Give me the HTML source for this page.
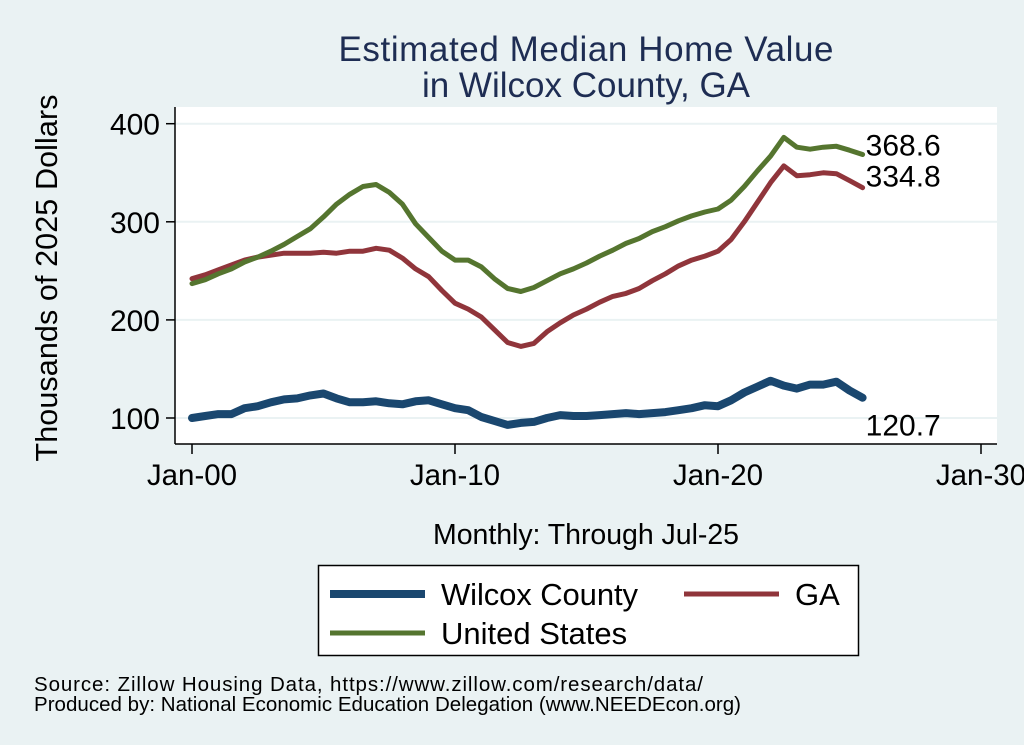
<!DOCTYPE html>
<html><head><meta charset="utf-8"><style>
html,body{margin:0;padding:0;background:#eaf2f3;}
svg{display:block;font-family:"Liberation Sans",Arial,sans-serif;}
</style></head><body>
<svg id="chart" width="1024" height="745" viewBox="0 0 1024 745">
<rect x="0" y="0" width="1024" height="745" fill="#eaf2f3"/>
<text x="586" y="61" text-anchor="middle" font-size="35" fill="#1e2d53" textLength="495">Estimated Median Home Value</text>
<text x="586" y="97" text-anchor="middle" font-size="35" fill="#1e2d53">in Wilcox County, GA</text>
<rect x="175" y="107" width="822" height="337" fill="#ffffff"/>
<g id="grid"></g>
<g id="axes"></g>
<g id="series"></g>
<text x="57" y="278" transform="rotate(-90 57 278)" text-anchor="middle" font-size="30.5" fill="#000" textLength="367">Thousands of 2025 Dollars</text>
<text x="586" y="544" text-anchor="middle" font-size="28.5" fill="#000" textLength="306">Monthly: Through Jul-25</text>
<g>
<rect x="318.5" y="565.5" width="540" height="90" fill="#fff" stroke="#000" stroke-width="1.5"/>
<line x1="330" y1="594" x2="425" y2="594" stroke="#1a476f" stroke-width="8"/>
<text x="441" y="605" font-size="31" textLength="197">Wilcox County</text>
<line x1="684" y1="594" x2="779" y2="594" stroke="#90353b" stroke-width="5"/>
<text x="795" y="605" font-size="31">GA</text>
<line x1="330" y1="633" x2="425" y2="633" stroke="#55752f" stroke-width="5"/>
<text x="441" y="644" font-size="31">United States</text>
</g>
<text x="34" y="691" font-size="20.5" textLength="669">Source: Zillow Housing Data, https://www.zillow.com/research/data/</text>
<text x="34" y="711" font-size="20.5" textLength="707">Produced by: National Economic Education Delegation (www.NEEDEcon.org)</text>
</svg>
<script>
const startYear = 2000;
const stepYears = 0.5;
const usValues = [237,241,247,252,259,264,270,277,285,293,305,318,328,336,338,330,318,298,284,270,261,261,254,242,232,229,233,240,247,252,258,265,271,278,283,290,295,301,306,310,313,322,336,352,367,386,376,374,376,377,373,368.6];
const gaValues = [242,246,251,256,261,264,266,268,268,268,269,268,270,270,273,271,263,252,244,230,217,211,203,190,177,173,176,188,197,205,211,218,224,227,232,240,247,255,261,265,270,282,300,320,340,357,347,348,350,349,342,334.8];
const wilcoxValues = [100,102,104,104,110,112,116,119,120,123,125,120,116,116,117,115,114,117,118,114,110,108,101,97,93,95,96,100,103,102,102,103,104,105,104,105,106,108,110,113,112,118,126,132,138,133,130,134,134,137,128,120.7];
const yTicks = [100,200,300,400];
const xTickYears = [2000,2010,2020,2030];
const xTickLabels = ["Jan-00","Jan-10","Jan-20","Jan-30"];
const endLabels = ["368.6","334.8","120.7"];

const NS = "http://www.w3.org/2000/svg";
function xs(yr){ return 192 + (yr-2000)*26.3; }
function ys(v){ return 418 - (v-100)*0.981; }
function mk(tag, attrs, parent){ const e=document.createElementNS(NS,tag); for(const k in attrs) e.setAttribute(k,attrs[k]); parent.appendChild(e); return e; }

const grid=document.getElementById('grid'), axes=document.getElementById('axes'), series=document.getElementById('series');
yTicks.forEach(v=>{
  const g=mk('line',{x1:175,x2:997,y1:ys(v),y2:ys(v),stroke:'#eaf2f3','stroke-width':2},grid);
  
  
  const t=mk('line',{x1:166,x2:175,y1:ys(v),y2:ys(v),stroke:'#000','stroke-width':1.5},axes);
  
  
  const l=mk('text',{x:160,y:ys(v)+11,'text-anchor':'end','font-size':30},axes);
  l.textContent=v;
  
  
});
mk('line',{x1:175,x2:175,y1:107,y2:444,stroke:'#000','stroke-width':1.5},axes);
mk('line',{x1:175,x2:997,y1:444,y2:444,stroke:'#000','stroke-width':1.5},axes);
xTickYears.forEach((yr,i)=>{
  const t=mk('line',{x1:xs(yr),x2:xs(yr),y1:444,y2:454,stroke:'#000','stroke-width':1.5},axes);
  
  
  const l=mk('text',{x:xs(yr),y:485,'text-anchor':'middle','font-size':29.5},axes);
  l.textContent=xTickLabels[i];
  
  
});
function drawLine(vals,color,w,name){
  const pts=vals.map((v,i)=>xs(startYear+i*stepYears).toFixed(1)+','+ys(v).toFixed(1)).join(' ');
  const p=mk('polyline',{points:pts,fill:'none',stroke:color,'stroke-width':w,'stroke-linejoin':'round','stroke-linecap':'round'},series);
  
  
}
drawLine(wilcoxValues,'#1a476f',8,'line-wilcox-county');
drawLine(gaValues,'#90353b',5,'line-ga');
drawLine(usValues,'#55752f',5,'line-united-states');
const lastX = xs(startYear+(usValues.length-1)*stepYears);
const l1=mk('text',{x:lastX+3,y:ys(usValues[usValues.length-1])+1,'font-size':30},series);
l1.textContent=endLabels[0];


const l2=mk('text',{x:lastX+3,y:ys(gaValues[gaValues.length-1])-1,'font-size':30},series);
l2.textContent=endLabels[1];


const l3=mk('text',{x:lastX+3,y:ys(wilcoxValues[wilcoxValues.length-1])+38,'font-size':30},series);
l3.textContent=endLabels[2];


</script>
</body></html>
